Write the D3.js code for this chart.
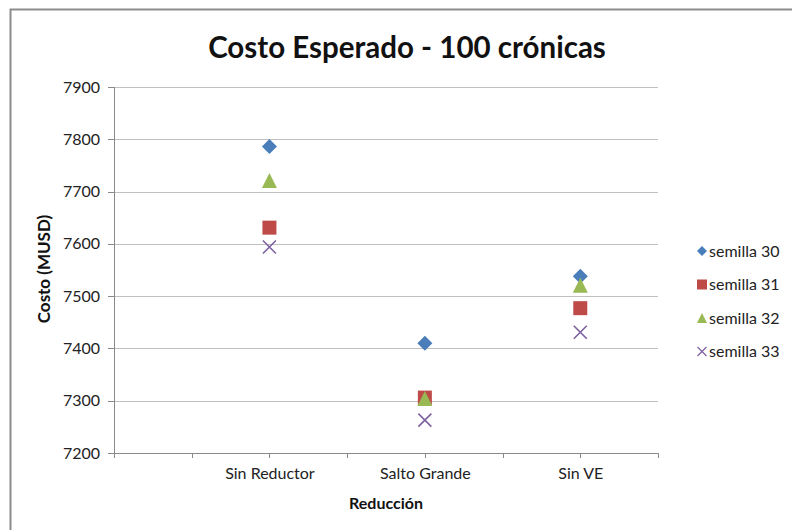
<!DOCTYPE html>
<html>
<head>
<meta charset="utf-8">
<script src="https://cdn.jsdelivr.net/npm/d3@7"></script>
<style>
  body { margin: 0; background: #fff; }
  text { font-family: Lato, "Open Sans", sans-serif; }
</style>
</head>
<body>
<div id="chart"></div>
<script>
// categories on the x axis (Excel line chart with blank slots)
const categoryLabels = ['', '', 'Sin Reductor', '', 'Salto Grande', '', 'Sin VE', '']
const pointSlots = [2, 4, 6]

// series values
const seriesNames = ['semilla 30', 'semilla 31', 'semilla 32', 'semilla 33']
const semilla30 = [7786, 7410, 7538]
const semilla31 = [7631, 7306, 7477]
const semilla32 = [7721, 7304, 7521]
const semilla33 = [7594, 7263, 7431]
const yTicks = [7200, 7300, 7400, 7500, 7600, 7700, 7800, 7900]

const seriesValues = [semilla30, semilla31, semilla32, semilla33]
const colors = ['#4a7ebb', '#be4b48', '#98b954', '#7d60a0']
const shapes = ['diamond', 'square', 'triangle', 'cross']

const width = 792
const height = 530
const margin = { top: 87, left: 114, right: 134, bottom: 77 }
const innerW = width - margin.left - margin.right
const innerH = height - margin.top - margin.bottom

const svg = d3.select('#chart')
  .append('svg')
  .attr('width', width)
  .attr('height', height)

// chart border
svg.append('rect')
  .attr('x', 10.5)
  .attr('y', 9.5)
  .attr('width', 800)
  .attr('height', 540)
  .attr('fill', 'none')
  .attr('stroke', '#8c8c8c')
  .attr('stroke-width', 2)

const g = svg.append('g')
  .attr('transform', 'translate(' + margin.left + ',' + margin.top + ')')

const xPositionScale = d3.scaleLinear()
  .domain([0, categoryLabels.length - 1])
  .range([0, innerW])
const yPositionScale = d3.scaleLinear()
  .domain([7200, 7900])
  .range([innerH, 0])

// gridlines
g.append('g')
  .selectAll('line')
  .data(yTicks)
  .enter()
  .append('line')
  .attr('x1', 0)
  .attr('x2', innerW)
  .attr('y1', d => Math.round(yPositionScale(d)) + 0.5)
  .attr('y2', d => Math.round(yPositionScale(d)) + 0.5)
  .attr('stroke', '#c0c0c0')
  .attr('stroke-width', 1)

// y axis
const yAxis = d3.axisLeft(yPositionScale)
  .tickValues(yTicks)
  .tickFormat(d3.format('d'))
  .tickSize(6)
  .tickPadding(8)
g.append('g')
  .attr('class', 'axis y-axis')
  .call(yAxis)
  .call(a => a.select('.domain').attr('d', 'M0.5,0V' + (innerH + 5)))
  .call(a => a.selectAll('.tick text').attr('font-size', 16).attr('fill', '#222'))

// x axis
const xAxis = d3.axisBottom(xPositionScale)
  .tickValues(d3.range(categoryLabels.length))
  .tickFormat(i => categoryLabels[i])
  .tickSize(5)
  .tickPadding(10)
g.append('g')
  .attr('class', 'axis x-axis')
  .attr('transform', 'translate(0,' + innerH + ')')
  .call(xAxis)
  .call(a => a.select('.domain').attr('d', 'M0,0.5H' + innerW))
  .call(a => a.selectAll('.tick text').attr('font-size', 16).attr('fill', '#222'))

svg.selectAll('.axis .domain, .axis .tick line')
  .attr('stroke', '#8a8a8a')
  .attr('shape-rendering', 'crispEdges')

// marker shapes, bounding box centred on the point
function markerPath(shape, s) {
  const h = s / 2
  if (shape === 'diamond') return `M0,${-h}L${h},0L0,${h}L${-h},0Z`
  if (shape === 'square') return `M${-h},${-h}H${h}V${h}H${-h}Z`
  if (shape === 'triangle') return `M0,${-h}L${h},${h}L${-h},${h}Z`
  return `M${-h},${-h}L${h},${h}M${h},${-h}L${-h},${h}`
}
const markerSize = [15, 14, 15, 13]

seriesValues.forEach((values, si) => {
  g.append('g')
    .selectAll('path')
    .data(values)
    .enter()
    .append('path')
    .attr('transform', (d, i) => 'translate(' + xPositionScale(pointSlots[i]) + ',' + yPositionScale(d) + ')')
    .attr('d', markerPath(shapes[si], markerSize[si]))
    .attr('fill', shapes[si] === 'cross' ? 'none' : colors[si])
    .attr('stroke', shapes[si] === 'cross' ? colors[si] : 'none')
    .attr('stroke-width', 1.6)
})

// legend
const legend = svg.append('g')
  .attr('transform', 'translate(702,251)')
seriesNames.forEach((name, i) => {
  const item = legend.append('g')
    .attr('transform', 'translate(0,' + i * 33.5 + ')')
  item.append('path')
    .attr('d', markerPath(shapes[i], shapes[i] === 'cross' ? 9 : 10))
    .attr('fill', shapes[i] === 'cross' ? 'none' : colors[i])
    .attr('stroke', shapes[i] === 'cross' ? colors[i] : 'none')
    .attr('stroke-width', 1.2)
  item.append('text')
    .attr('x', 7)
    .attr('dy', '0.35em')
    .attr('font-size', 16)
    .attr('fill', '#222')
    .text(name)
})

// titles
svg.append('text')
  .attr('x', 407)
  .attr('y', 58)
  .attr('text-anchor', 'middle')
  .attr('font-size', 29.5)
  .attr('font-weight', 'bold')
  .attr('fill', '#111')
  .text('Costo Esperado - 100 crónicas')

svg.append('text')
  .attr('transform', 'translate(50,269) rotate(-90)')
  .attr('text-anchor', 'middle')
  .attr('font-size', 17)
  .attr('font-weight', 'bold')
  .attr('fill', '#111')
  .text('Costo (MUSD)')

svg.append('text')
  .attr('x', 386)
  .attr('y', 509)
  .attr('text-anchor', 'middle')
  .attr('font-size', 16)
  .attr('font-weight', 'bold')
  .attr('fill', '#111')
  .text('Reducción')
</script>
</body>
</html>
